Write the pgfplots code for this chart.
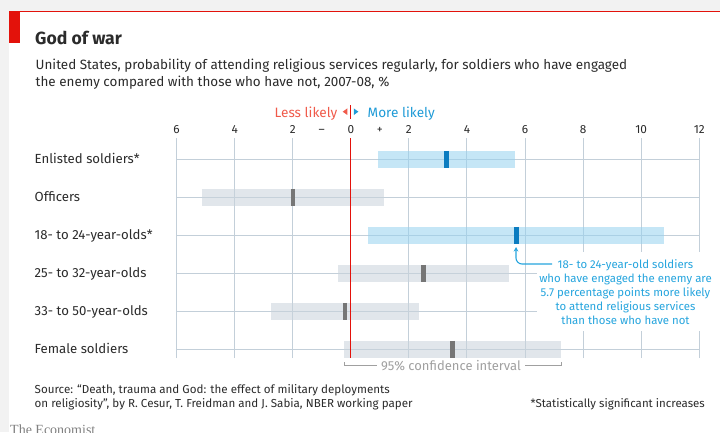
\documentclass[border=0pt]{standalone}
\usepackage{fontspec}
\setmainfont{Fira Sans}
\newfontfamily\econ{Liberation Serif}
\usepackage{pgfplots}
\pgfplotsset{compat=1.18}
\usetikzlibrary{arrows.meta}
\definecolor{ecored}{HTML}{E3120B}
\definecolor{lessred}{HTML}{F05A4A}
\definecolor{moreblue}{HTML}{1F9BD7}
\definecolor{annblue}{HTML}{26A5DE}
\definecolor{markblue}{HTML}{0B7CC0}
\definecolor{barblue}{RGB}{150,210,240}
\definecolor{bargrey}{RGB}{202,211,219}
\definecolor{markgrey}{HTML}{767676}
\definecolor{gridc}{HTML}{C3CFD9}
\definecolor{txt}{HTML}{2B2B2B}
\definecolor{bgg}{HTML}{F2F2F2}
\definecolor{cigrey}{HTML}{A0A0A0}
\begin{document}
\begin{tikzpicture}[x=1pt,y=1pt]
\useasboundingbox (0,0) rectangle (720,432);
\clip (0,0) rectangle (720,432);
\fill[white] (0,0) rectangle (720,432);
\fill[bgg] (0,0) rectangle (9,432);
\fill[bgg] (0,421) rectangle (720,432);
\fill[ecored] (9,420) rectangle (720,421);
\fill[ecored] (9,389) rectangle (20,421);
% title
\node[anchor=base west, inner sep=0, text=txt] at (35,387.5) {\fontsize{17.6}{22}\selectfont\bfseries God of war};
\node[anchor=base west, inner sep=0, text=txt] at (35.5,362.5) {\fontsize{13.45}{15}\selectfont United States, probability of attending religious services regularly, for soldiers who have engaged};
\node[anchor=base west, inner sep=0, text=txt] at (35.5,345) {\fontsize{13.45}{15}\selectfont the enemy compared with those who have not, 2007-08, \%};
% header
\node[anchor=base east, inner sep=0, text=lessred] at (337.5,314) {\fontsize{13.6}{15}\selectfont Less likely};
\fill[lessred] (342.7,320.3) -- (347.3,323.6) -- (347.3,317) -- cycle;
\fill[moreblue] (353.8,323.6) -- (353.8,317) -- (358.4,320.3) -- cycle;
\draw[ecored, line width=1.2pt] (350.7,313) -- (350.7,327);
\node[anchor=base west, inner sep=0, text=moreblue] at (367.5,314) {\fontsize{13.6}{15}\selectfont More likely};
\begin{axis}[
  at={(176.6pt,74pt)}, anchor=south west, scale only axis,
  width=522.7pt, height=220pt,
  xmin=-6, xmax=12, ymin=0.771, ymax=6.5605,
  clip=false,
  axis line style={draw=none},
  major tick length=0pt, minor tick length=0pt,
  xtick={-6,-4,-2,0,2,4,6,8,10,12},
  xticklabels={6,4,2,0,2,4,6,8,10,12},
  extra x ticks={-1,1},
  extra x tick labels={–,+},
  extra x tick style={grid=none},
  xticklabel pos=upper,
  xticklabel style={anchor=base, yshift=4pt, inner sep=0pt, font=\fontsize{11.8}{14}\selectfont, text=txt},
  ytick={1,2,3,4,5,6},
  yticklabels={Female soldiers,33- to 50-year-olds,25- to 32-year-olds,18- to 24-year-olds*,Officers,Enlisted soldiers*},
  yticklabel style={anchor=base west, xshift=-142.1pt, yshift=-4.6pt, inner sep=0pt, font=\fontsize{13.2}{14}\selectfont, text=txt},
  grid=major,
  major grid style={gridc, line width=1pt},
  sig/.style={barblue, draw opacity=0.55, line width=17pt, line cap=butt, mark=none},
  ns/.style={bargrey, draw opacity=0.55, line width=17pt, line cap=butt, mark=none},
]
% 95% confidence intervals
\addplot[sig] coordinates {(0.95,6) (5.66,6)};
\addplot[ns]  coordinates {(-5.13,5) (1.15,5)};
\addplot[sig] coordinates {(0.60,4) (10.79,4)};
\addplot[ns]  coordinates {(-0.43,3) (5.45,3)};
\addplot[ns]  coordinates {(-2.74,2) (2.36,2)};
\addplot[ns]  coordinates {(-0.22,1) (7.24,1)};
% zero line
\addplot[ecored, line width=1.2pt, mark=none] coordinates {(0,0.771) (0,6.5605)};
% estimates
\addplot[only marks, mark=|, mark size=8.5pt, mark options={markblue, line width=4.4pt}] coordinates {(3.3,6) (5.7,4)};
\addplot[only marks, mark=|, mark size=8.5pt, mark options={markgrey, line width=4.4pt}] coordinates {(-2.0,5) (2.5,3) (-0.2,2) (3.5,1)};
\end{axis}
% annotation
\fill[white] (537,101) rectangle (716,180);
\draw[annblue, line width=1.1pt, rounded corners=6pt, -{Stealth[length=4.5pt,width=4.5pt]}] (552,168) -- (516,168) -- (516,185);
\begin{scope}[every node/.style={anchor=base, inner sep=0, text=annblue, font=\fontsize{11.4}{14}\selectfont}]
\node at (625.5,164) {18- to 24-year-old soldiers};
\node at (625.5,150) {who have engaged the enemy are};
\node at (625.5,136) {5.7 percentage points more likely};
\node at (625.5,122) {to attend religious services};
\node at (625.5,108) {than those who have not};
\end{scope}
% CI bracket
\draw[cigrey, line width=0.9pt] (344.3,70) -- (344.3,66.5) -- (561,66.5) -- (561,70);
\node[anchor=base, fill=white, inner xsep=4pt, inner ysep=1pt, text=cigrey] at (451,62) {\fontsize{13}{14}\selectfont 95\% confidence interval};
% source
\node[anchor=base west, inner sep=0, text=txt] at (34.5,38.5) {\fontsize{11.6}{13}\selectfont Source: “Death, trauma and God: the effect of military deployments};
\node[anchor=base west, inner sep=0, text=txt] at (34.5,24.5) {\fontsize{11.6}{13}\selectfont on religiosity”, by R. Cesur, T. Freidman and J. Sabia, NBER working paper};
\node[anchor=base east, inner sep=0, text=txt] at (705,24.5) {\fontsize{11.5}{13}\selectfont *Statistically significant increases};
\node[anchor=base west, inner sep=0, text=gray] at (10,-2) {\econ\fontsize{14}{16}\selectfont The Economist};
\end{tikzpicture}
\end{document}
